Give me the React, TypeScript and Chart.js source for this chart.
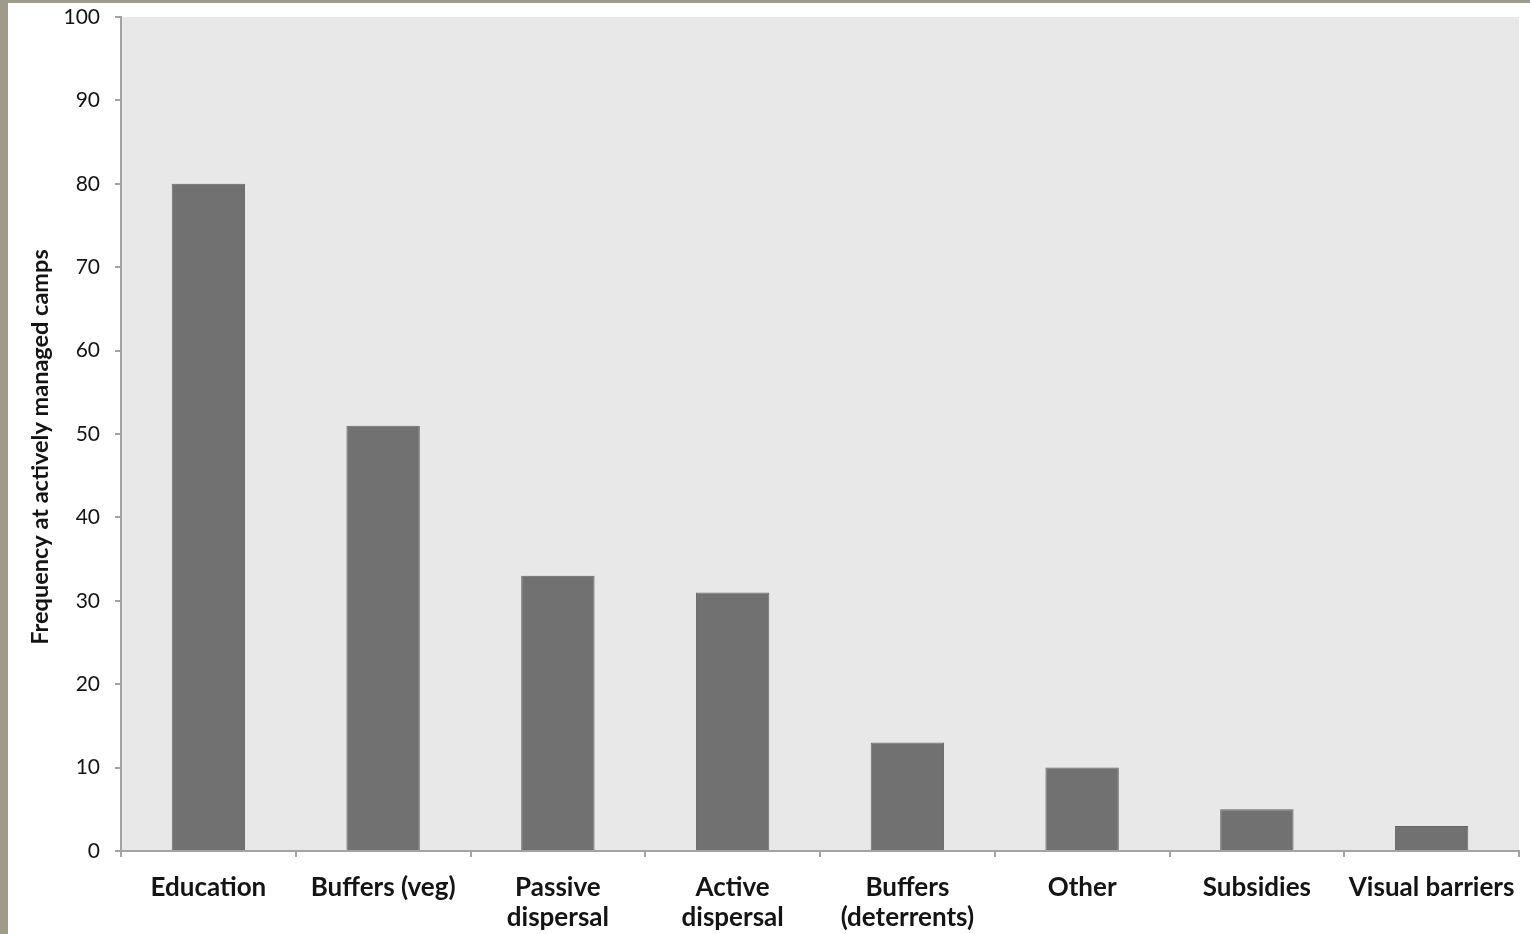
import React, { useEffect, useRef } from "react";
import { Chart, registerables } from "chart.js";

Chart.register(...registerables);

const categories: (string | string[])[] = [
  "Education",
  "Buffers (veg)",
  ["Passive", "dispersal"],
  ["Active", "dispersal"],
  ["Buffers", "(deterrents)"],
  "Other",
  "Subsidies",
  "Visual barriers",
];
const frequencies: number[] = [80, 51, 33, 31, 13, 10, 5, 3];
const yTitle = "Frequency at actively managed camps";
const yMin = 0;
const yMax = 100;
const yStep = 10;

const plotBg = {
  id: "plotBg",
  beforeDraw(chart: any) {
    const { ctx, chartArea } = chart;
    if (!chartArea) return;
    ctx.save();
    ctx.fillStyle = "#e8e8e8";
    ctx.fillRect(chartArea.left, chartArea.top, chartArea.right - chartArea.left, chartArea.bottom - chartArea.top);
    ctx.restore();
  },
};

const yTitlePlugin = {
  id: "yTitlePlugin",
  afterDraw(chart: any) {
    const { ctx, chartArea } = chart;
    if (!chartArea) return;
    ctx.save();
    ctx.translate(32, (chartArea.top + chartArea.bottom) / 2 + 13);
    ctx.rotate(-Math.PI / 2);
    ctx.font = "bold 23.5px Lato";
    ctx.fillStyle = "#141414";
    ctx.textAlign = "center";
    ctx.textBaseline = "middle";
    ctx.fillText(yTitle, 0, 0);
    ctx.restore();
  },
};

export default function App() {
  const ref = useRef<HTMLCanvasElement | null>(null);
  useEffect(() => {
    if (!ref.current) return;
    const axisColor = "#a3a3a3";
    const chart = new Chart(ref.current, {
      type: "bar",
      data: {
        labels: categories,
        datasets: [
          {
            data: frequencies,
            backgroundColor: "#717171",
            borderColor: "#666666",
            borderWidth: 1,
            barPercentage: 0.42,
            categoryPercentage: 1,
          },
        ],
      },
      plugins: [plotBg, yTitlePlugin],
      options: {
        animation: false,
        responsive: true,
        maintainAspectRatio: false,
        layout: { padding: { top: 14, right: 11, left: 0, bottom: 0 } },
        plugins: { legend: { display: false }, tooltip: { enabled: false } },
        scales: {
          x: {
            offset: true,
            border: { display: true, color: axisColor, width: 2 },
            grid: {
              display: true,
              offset: true,
              drawOnChartArea: false,
              drawTicks: true,
              tickLength: 6,
              color: axisColor,
              lineWidth: 2,
            },
            ticks: {
              autoSkip: false,
              maxRotation: 0,
              minRotation: 0,
              padding: 16,
              color: "#141414",
              font: { family: "Lato", size: 26, weight: "bold", lineHeight: 1.15 },
            },
            afterFit(scale: any) {
              scale.height = 83;
              scale.paddingLeft = 0;
              scale.paddingRight = 0;
            },
          },
          y: {
            min: yMin,
            max: yMax,
            border: { display: true, color: axisColor, width: 2 },
            grid: {
              display: true,
              drawOnChartArea: false,
              drawTicks: true,
              tickLength: 6,
              color: axisColor,
              lineWidth: 2,
            },
            ticks: {
              stepSize: yStep,
              padding: 15,
              color: "#141414",
              font: { family: "Lato", size: 21 },
            },
            afterFit(scale: any) {
              scale.width = 113;
              scale.paddingTop = 0;
              scale.paddingBottom = 0;
            },
          },
        },
      },
    });
    return () => chart.destroy();
  }, []);

  return (
    <div style={{ position: "fixed", left: 0, top: 0, width: 1530, height: 934, background: "#9f9b8a" }}>
      <div style={{ position: "absolute", left: 8, top: 3, width: 1522, height: 931, background: "#ffffff" }}>
        <canvas ref={ref} />
      </div>
    </div>
  );
}
